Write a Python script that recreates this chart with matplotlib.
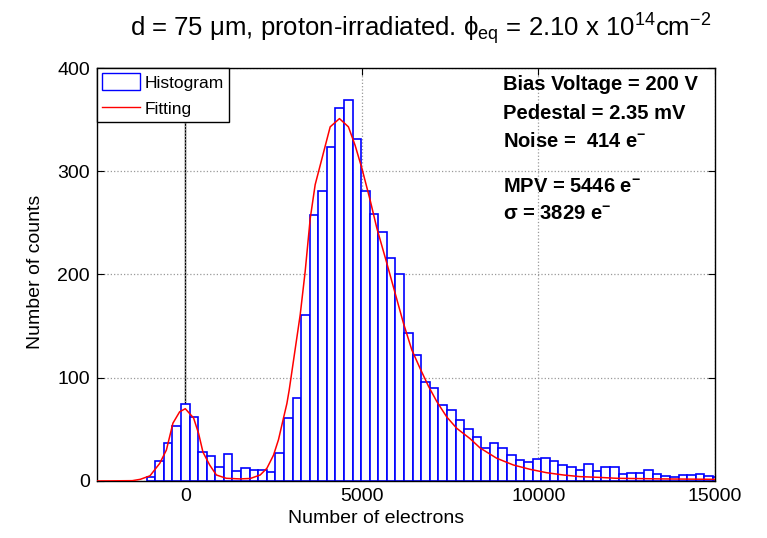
import numpy as np
import matplotlib
matplotlib.use("Agg")
import matplotlib.pyplot as plt
from matplotlib.patches import Patch
from matplotlib.lines import Line2D

plt.rcParams['font.family'] = ['Liberation Sans', 'DejaVu Sans']
plt.rcParams['mathtext.fontset'] = 'custom'
plt.rcParams['mathtext.rm'] = 'Liberation Sans'
plt.rcParams['mathtext.it'] = 'Liberation Sans:italic'
plt.rcParams['mathtext.bf'] = 'Liberation Sans:bold'

# histogram bins (electrons), first bin centre and width
bin_first = -972
bin_width = 243
counts = [4, 19, 37, 53, 75, 62, 28, 24, 14, 26, 10, 13, 11, 11, 9, 27, 61, 80,
          161, 258, 281, 323, 361, 369, 331, 281, 259, 241, 216, 200, 143, 122,
          96, 90, 74, 69, 59, 50, 43, 32, 37, 32, 25, 20, 18, 21, 22, 19, 15, 14,
          11, 16, 10, 14, 14, 7, 8, 8, 11, 7, 5, 4, 6, 6, 7, 5, 4]

# fitted curve
fit_x = [-2500, -1500, -1275, -1000, -725, -535, -350, -160, 0, 235, 377, 500,
         690, 880, 1160, 1540, 1840, 2122, 2312, 2499, 2640, 2782, 2878, 2943,
         3255, 3396, 3538, 3679, 3869, 4104, 4367, 4621, 4811, 5001, 5236,
         5425, 5708, 5943, 6178, 6416, 6651, 6885, 7123, 7406, 7689, 8066,
         8349, 8821, 9291, 9764, 10236, 10706, 11179, 11651, 12217, 13443, 15000]
fit_y = [0, 0.3, 1.6, 5, 17, 30, 56, 67, 70, 61, 46, 28,
         15.5, 5.8, 2.6, 2.0, 2.4, 5.8, 12.3, 25, 40, 61, 75, 88,
         161, 203, 254, 287, 312, 343, 351, 343, 325, 303, 272,
         245, 211, 182, 153, 127, 109, 92, 77, 62, 51, 41,
         32, 22, 15.5, 11.3, 8, 5.8, 4.2, 3.6, 2.6, 2.0, 1.6]

info_lines = ["Bias Voltage = 200 V", "Pedestal = 2.35 mV",
              r"Noise =  414 e$^{\mathbf{-}}$",
              r"MPV = 5446 e$^{\mathbf{-}}$", r"$\mathbf{\sigma}$ = 3829 e$^{\mathbf{-}}$"]
info_y = [0.947, 0.877, 0.809, 0.700, 0.634]

centers = bin_first + bin_width * np.arange(len(counts))

fig = plt.figure(figsize=(7.67, 5.38), dpi=100)
ax = fig.add_axes([0.1265, 0.106, 0.8055, 0.7676])

ax.grid(True, color='#999999', linestyle=':', linewidth=0.9, zorder=0)
ax.axvline(0, color='k', lw=1.0, zorder=1)
ax.bar(centers, counts, width=bin_width, facecolor='white', edgecolor='blue',
       linewidth=1.2, zorder=2)
ax.plot(fit_x, fit_y, color='red', lw=1.1, zorder=3)

ax.set_xlim(-2500, 15000)
ax.set_ylim(0, 400)
ax.set_xticks([0, 5000, 10000, 15000])
ax.set_yticks([0, 100, 200, 300, 400])
ax.tick_params(direction='in', top=True, right=True, labelsize=14, length=5,
               pad=5)
for s in ax.spines.values():
    s.set_linewidth(1.0)

for txt, yy in zip(info_lines, info_y):
    ax.text(0.657, yy, txt, transform=ax.transAxes, fontsize=14.5,
            fontweight='bold', ha='left', va='baseline', zorder=5)

handles = [Patch(facecolor='white', edgecolor='blue', linewidth=1.0),
           Line2D([], [], color='red', lw=1.0)]
leg = ax.legend(handles, ["Histogram", "Fitting"], loc='upper left',
                fontsize=12.5, fancybox=False, framealpha=1, edgecolor='k',
                borderaxespad=0, handlelength=2.2, handleheight=1.15,
                handletextpad=0.25, borderpad=0.3, labelspacing=0.5)
leg.get_frame().set_linewidth(1.0)
leg.set_zorder(6)

fig.text(0.549, 0.946,
         "d = 75 \u03bcm, proton-irradiated. \u03d5$_{\\rm eq}$ = 2.10 x 10$^{14}$cm$^{-2}$",
         ha='center', va='center', fontsize=18.5)
fig.text(0.49, 0.037, "Number of electrons", ha='center', va='center',
         fontsize=14)
fig.text(0.046, 0.495, "Number of counts", ha='center', va='center',
         rotation=90, fontsize=14)

fig.savefig("out.png", dpi=100)
